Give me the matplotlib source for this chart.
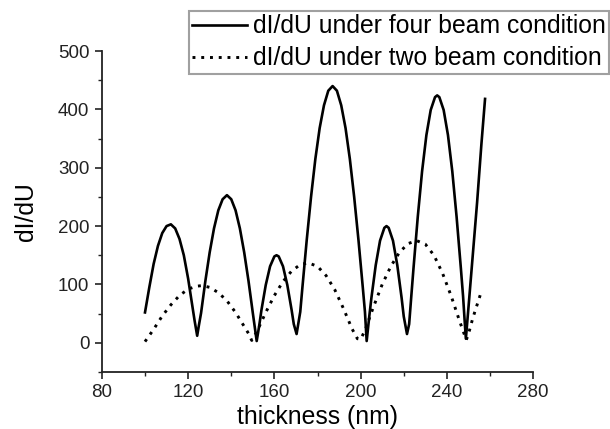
import numpy as np
import matplotlib.pyplot as plt
from matplotlib.ticker import MultipleLocator

plt.rcParams['font.family'] = ['Liberation Sans', 'DejaVu Sans']

# four beam condition (solid)
x_four = [100, 102, 104, 106, 108, 110, 112, 114, 116, 118, 120, 122, 123, 124.2,
          125, 126, 128, 130, 132, 134, 136, 138, 140, 142, 144, 146, 148, 150, 151.8,
          153, 154, 156, 158, 160, 161, 162, 164, 166, 168, 169, 170.3,
          172, 173, 175, 177, 179, 181, 183, 185, 187, 189, 191, 193, 195, 197, 199, 201, 202, 202.8,
          204, 205, 207, 209, 211, 212, 213, 215, 217, 219, 220, 221.5,
          222.5, 223.5, 224.5, 226.5, 228.5, 230.5, 232.5, 234.5, 235.5, 236.5, 238.5, 240.5,
          242.5, 244.5, 246.5, 247.5, 248.2, 248.8,
          250, 252, 254, 256, 257.7]
y_four = [52, 95, 135, 166, 188, 200, 203, 196, 178, 150, 110, 62, 38, 12,
          30, 51, 106, 155, 196, 227, 246, 253, 246, 227, 196, 155, 106, 51, 3,
          30, 56, 99, 131, 148, 150, 148, 131, 99, 56, 32, 15,
          53, 95, 176, 250, 315, 368, 407, 432, 440, 432, 407, 368, 315, 250, 176, 95, 53, 3,
          45, 77, 133, 175, 197, 200, 197, 175, 133, 77, 45, 15,
          32, 80, 127, 216, 294, 356, 399, 421, 424, 421, 399, 356,
          294, 216, 127, 80, 40, 7,
          60, 150, 240, 340, 418]

# two beam condition (dotted)
x_two = [100, 104, 108, 112, 116, 120, 124, 126.5, 130, 134, 138, 142, 146, 148, 149.5,
         152, 156, 160, 164, 168, 172, 175.7, 180, 184, 188, 192, 196, 198.5, 200,
         202, 206, 210, 214, 218, 222, 226, 230, 234, 238, 242, 246, 249,
         250, 252, 254, 256]
y_two = [2, 23, 46, 65, 81, 92, 97, 98, 95, 86, 72, 52, 28, 16, 4,
         20, 52, 81, 105, 123, 134, 137, 131, 115, 91, 59, 24, 7, 6,
         21, 62, 100, 131, 155, 170, 175, 169, 150, 119, 80, 36, 5,
         15, 42, 65, 88]

fig = plt.figure(figsize=(6.1, 4.29), dpi=100)
ax = fig.add_axes([0.167, 0.133, 0.707, 0.748])

l1, = ax.plot(x_four, y_four, color='black', lw=1.9, solid_joinstyle='round')
l2, = ax.plot(x_two, y_two, color='black', lw=2.1, linestyle=(0, (1, 2)))

ax.set_xlim(80, 280)
ax.set_ylim(-50, 500)
ax.xaxis.set_major_locator(MultipleLocator(40))
ax.xaxis.set_minor_locator(MultipleLocator(20))
ax.yaxis.set_major_locator(MultipleLocator(100))
ax.yaxis.set_minor_locator(MultipleLocator(50))

for side in ['top', 'right']:
    ax.spines[side].set_visible(False)
for side in ['left', 'bottom']:
    ax.spines[side].set_linewidth(1.3)
    ax.spines[side].set_color('#222222')

ax.tick_params(which='major', direction='out', length=5, width=1.2, labelsize=13.5, pad=4, colors='#222222')
ax.tick_params(which='minor', direction='out', length=2.8, width=1.0, colors='#222222')

ax.set_xlabel('thickness (nm)', fontsize=17.8, labelpad=2.5)
ax.set_ylabel('dI/dU', fontsize=17.8, labelpad=14)

leg = fig.legend([l1, l2], ['dI/dU under four beam condition', 'dI/dU under two beam condition'],
                 loc='upper left', bbox_to_anchor=(189 / 610, 1 - 11 / 429), borderaxespad=0,
                 fontsize=17.8, frameon=True, fancybox=False, handlelength=2.2, handletextpad=0.26,
                 borderpad=0.13, labelspacing=0.33)
leg.get_frame().set_edgecolor('#888888')
leg.get_frame().set_linewidth(1.5)

fig.savefig('out.png', dpi=100)
